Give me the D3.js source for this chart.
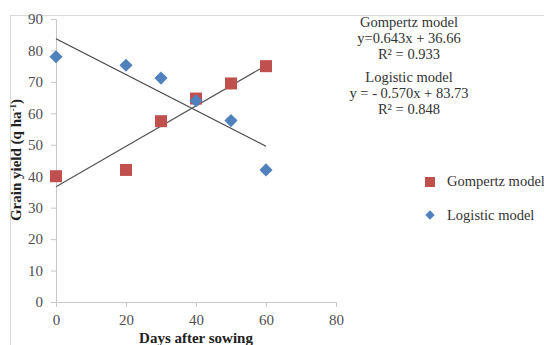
<!DOCTYPE html>
<html>
<head>
<meta charset="utf-8">
<script src="https://cdn.jsdelivr.net/npm/d3@7"></script>
<style>
  body { margin: 0; background: #fff; }
  svg text { font-family: 'Liberation Serif', 'Times New Roman', serif !important; }
</style>
</head>
<body>
<div id="chart"></div>
<script>
const days = [0, 20, 30, 40, 50, 60];
const gompertz = [40, 42, 57.5, 64.7, 69.5, 75];
const logistic = [78, 75.3, 71.2, 64, 57.7, 42];
const xTicks = [0, 20, 40, 60, 80];
const yTicks = [0, 10, 20, 30, 40, 50, 60, 70, 80, 90];
const gompFit = { slope: 0.643, intercept: 36.66 };
const logFit = { slope: -0.570, intercept: 83.73 };

const width = 544, height = 345;
const svg = d3.select('#chart').append('svg')
  .attr('width', width).attr('height', height);

// outer frame
svg.append('rect')
  .attr('x', 10.5).attr('y', 15.5)
  .attr('width', 560).attr('height', 360)
  .attr('fill', 'none').attr('stroke', '#d9d9d9');

const x = d3.scaleLinear().domain([0, 80]).range([56, 336]);
const y = d3.scaleLinear().domain([0, 90]).range([302, 19]);

const xAxis = svg.append('g')
  .attr('transform', 'translate(0,302)')
  .call(d3.axisBottom(x).tickValues(xTicks).tickSize(5).tickPadding(7));
const yAxis = svg.append('g')
  .attr('transform', 'translate(56,0)')
  .call(d3.axisLeft(y).tickValues(yTicks).tickSize(5).tickPadding(8));

[xAxis, yAxis].forEach(a => {
  a.attr('font-size', 15);
  a.select('.domain').attr('stroke', '#c8c8c8');
  a.selectAll('.tick line').attr('stroke', '#c8c8c8');
  a.selectAll('.tick text').attr('fill', '#505050');
});

// trend lines
const fitLine = (f) => [0, 60].map(d => [x(d), y(f.slope * d + f.intercept)]);
svg.append('path')
  .attr('d', d3.line()(fitLine(logFit)))
  .attr('stroke', '#444').attr('stroke-width', 1.2).attr('fill', 'none');
svg.append('path')
  .attr('d', d3.line()(fitLine(gompFit)))
  .attr('stroke', '#555').attr('stroke-width', 1.2).attr('fill', 'none');

// points
svg.append('g').selectAll('rect')
  .data(days.map((d, i) => [d, gompertz[i]]))
  .enter().append('rect')
  .attr('x', d => x(d[0]) - 6).attr('y', d => y(d[1]) - 6)
  .attr('width', 12).attr('height', 12)
  .attr('fill', '#c0504d');

const diamond = d3.symbol().type(d3.symbolDiamond2).size(110);
svg.append('g').selectAll('path')
  .data(days.map((d, i) => [d, logistic[i]]))
  .enter().append('path')
  .attr('d', diamond)
  .attr('transform', d => 'translate(' + x(d[0]) + ',' + y(d[1]) + ')')
  .attr('fill', '#4f81bd');

// axis titles
svg.append('text')
  .attr('x', 196).attr('y', 343)
  .attr('text-anchor', 'middle')
  .attr('font-weight', 'bold').attr('font-size', 15).attr('fill', '#222')
  .text('Days after sowing');

const yl = svg.append('text')
  .attr('transform', 'translate(21,160) rotate(-90)')
  .attr('text-anchor', 'middle')
  .attr('font-weight', 'bold').attr('font-size', 15).attr('fill', '#222');
yl.append('tspan').text('Grain yield (q ha');
yl.append('tspan').attr('dy', -5).attr('font-size', 9).text('-1');
yl.append('tspan').attr('dy', 5).text(')');

// equations
const eqs = [
  ['Gompertz model', 'y=0.643x + 36.66', 'R² = 0.933'],
  ['Logistic model', 'y = - 0.570x + 83.73', 'R² = 0.848']
];
eqs.forEach((lines, k) => {
  lines.forEach((t, j) => {
    svg.append('text')
      .attr('x', 409).attr('y', 27 + k * 55 + j * 16)
      .attr('text-anchor', 'middle')
      .attr('font-size', 14.5).attr('fill', '#333')
      .text(t);
  });
});

// legend
const legend = svg.append('g');
legend.append('rect')
  .attr('x', 425).attr('y', 177).attr('width', 10).attr('height', 10)
  .attr('fill', '#c0504d');
legend.append('path')
  .attr('d', d3.symbol().type(d3.symbolDiamond2).size(55))
  .attr('transform', 'translate(430,215)')
  .attr('fill', '#4f81bd');
legend.append('text').attr('x', 447).attr('y', 186)
  .attr('font-size', 14.5).attr('fill', '#333').text('Gompertz model');
legend.append('text').attr('x', 447).attr('y', 220)
  .attr('font-size', 14.5).attr('fill', '#333').text('Logistic model');
</script>
</body>
</html>
